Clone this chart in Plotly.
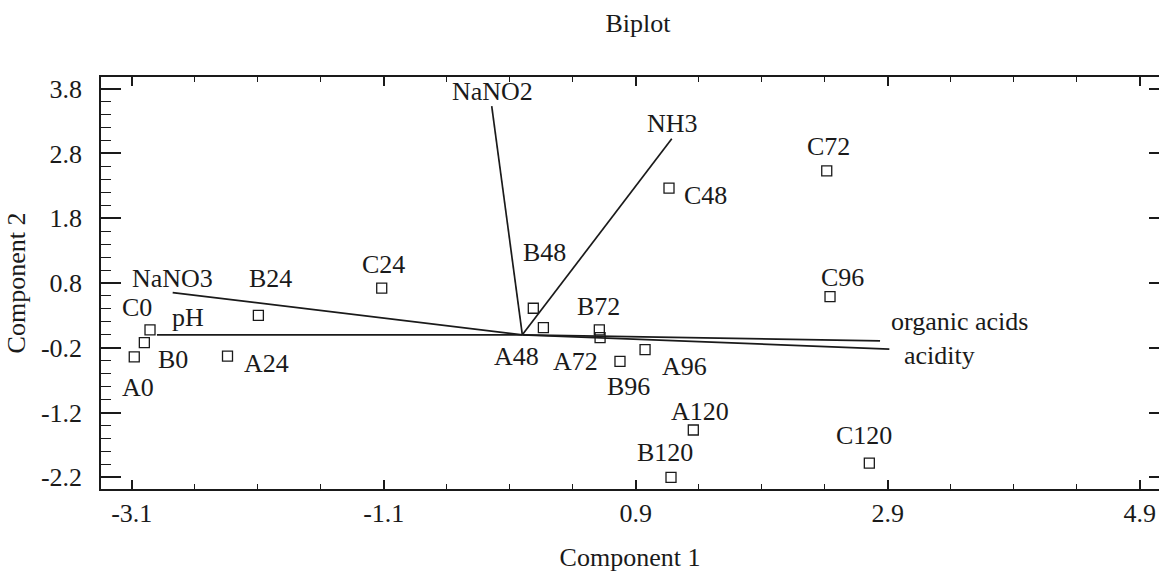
import plotly.graph_objects as go

# ---- data ----
samples = ["A0", "B0", "C0", "A24", "B24", "C24", "A48", "B48", "C48",
           "A72", "B72", "C72", "A96", "B96", "C96", "A120", "B120", "C120"]
pc1 = [-3.08, -3.00, -2.955, -2.34, -2.095, -1.116, 0.167, 0.087, 1.164,
       0.617, 0.611, 2.416, 0.974, 0.775, 2.442, 1.357, 1.18, 2.754]
pc2 = [-0.34, -0.12, 0.075, -0.33, 0.30, 0.72, 0.11, 0.41, 2.265,
       -0.044, 0.075, 2.53, -0.23, -0.41, 0.59, -1.47, -2.20, -1.98]

variables = ["NaNO2", "NH3", "NaNO3", "pH", "organic acids", "acidity"]
vec_x = [-0.243, 1.186, -2.775, -2.90, 2.839, 2.913]
vec_y = [3.53, 3.027, 0.652, 0.0, -0.095, -0.22]

x_ticks = [-3.1, -1.1, 0.9, 2.9, 4.9]
y_ticks = [-2.2, -1.2, -0.2, 0.8, 1.8, 2.8, 3.8]

# ---- label placement (pixel offsets from each mark) ----
sample_offsets = {
    "A0": (4, -31), "B0": (29, -17), "C0": (-13, 22), "A24": (39, -7),
    "B24": (12, 37), "C24": (2, 24), "A48": (-27, -29), "B48": (11, 56),
    "C48": (36, -7), "A72": (-25, -24), "B72": (-1, 23), "C72": (2, 24),
    "A96": (39, -17), "B96": (9, -25), "C96": (12, 19), "A120": (7, 19),
    "B120": (-6, 25), "C120": (-5, 28),
}
var_offsets = {
    "NaNO2": (1, 15), "NH3": (1, 15), "NaNO3": (0, 14), "pH": (31, 17),
    "organic acids": (79, 19), "acidity": (50, -6),
}

FONT = "Liberation Serif"
INK = "#1a1a1a"
FS = 26

W, H = 1159, 572

fig = go.Figure()

# vectors from origin
lx, ly = [], []
for x, y in zip(vec_x, vec_y):
    lx += [0, x, None]
    ly += [0, y, None]
fig.add_trace(go.Scatter(x=lx, y=ly, mode="lines",
                         line=dict(color=INK, width=1.7),
                         hoverinfo="skip", showlegend=False))

# sample points
fig.add_trace(go.Scatter(x=pc1, y=pc2, mode="markers", text=samples,
                         marker=dict(symbol="square-open", size=10,
                                     color=INK, line=dict(width=1.3, color=INK)),
                         showlegend=False))

# dummy trace for right-side tick axis
fig.add_trace(go.Scatter(x=[], y=[], yaxis="y2", showlegend=False))

annotations = []
for name, x, y in zip(samples, pc1, pc2):
    dx, dy = sample_offsets[name]
    annotations.append(dict(x=x, y=y, text=name, showarrow=False,
                            xshift=dx, yshift=dy,
                            font=dict(family=FONT, size=FS, color=INK)))
for name, x, y in zip(variables, vec_x, vec_y):
    dx, dy = var_offsets[name]
    annotations.append(dict(x=x, y=y, text=name, showarrow=False,
                            xshift=dx, yshift=dy,
                            font=dict(family=FONT, size=FS, color=INK)))

xr = [-3.344, 5.053]
yr = [-2.381, 3.981]

fig.update_layout(
    width=W, height=H,
    margin=dict(l=101, r=0, t=77, b=83, autoexpand=False),
    paper_bgcolor="white", plot_bgcolor="white",
    font=dict(family=FONT, size=FS, color=INK),
    title=dict(text="Biplot", x=638 / W, xref="container", xanchor="center",
               y=1 - 23 / H, yref="container", yanchor="middle",
               font=dict(family=FONT, size=FS, color=INK)),
    xaxis=dict(range=xr, tickvals=x_ticks, ticktext=[str(v) for v in x_ticks],
               ticks="inside", ticklen=9, tickwidth=1.5, tickcolor=INK,
               minor=dict(dtick=0.5, tick0=-3.1, ticks="inside", ticklen=5,
                          tickwidth=1.2, tickcolor=INK),
               showline=True, linecolor=INK, linewidth=1.5, mirror="ticks",
               showgrid=False, zeroline=False, automargin=False,
               tickfont=dict(family=FONT, size=FS, color=INK),
               title=dict(text="Component 1", standoff=22,
                          font=dict(family=FONT, size=FS, color=INK))),
    yaxis=dict(range=yr, tickvals=y_ticks, ticktext=[str(v) for v in y_ticks],
               ticks="inside", ticklen=20, tickwidth=1.5, tickcolor=INK,
               minor=dict(dtick=0.2, tick0=-0.2, ticks="inside", ticklen=10,
                          tickwidth=1.2, tickcolor=INK),
               showline=True, linecolor=INK, linewidth=1.5, mirror=False,
               showgrid=False, zeroline=False, ticklabelstandoff=12,
               automargin=False,
               tickfont=dict(family=FONT, size=FS, color=INK),
               title=dict(text="Component 2", standoff=8,
                          font=dict(family=FONT, size=FS, color=INK))),
    yaxis2=dict(overlaying="y", side="right", matches="y", range=yr,
                tickvals=y_ticks, ticks="inside", ticklen=10, tickwidth=1.5,
                tickcolor=INK, showticklabels=False, showgrid=False,
                zeroline=False, showline=False, automargin=False),
    annotations=annotations,
)

# remove the default page margin so the figure fills the window exactly
page_css = ("document.documentElement.style.margin='0';"
            "document.body.style.margin='0';"
            "document.documentElement.style.overflow='hidden';"
            "document.body.style.overflow='hidden';")

fig.write_html("out.html", post_script=page_css,
               config={"displayModeBar": False})
